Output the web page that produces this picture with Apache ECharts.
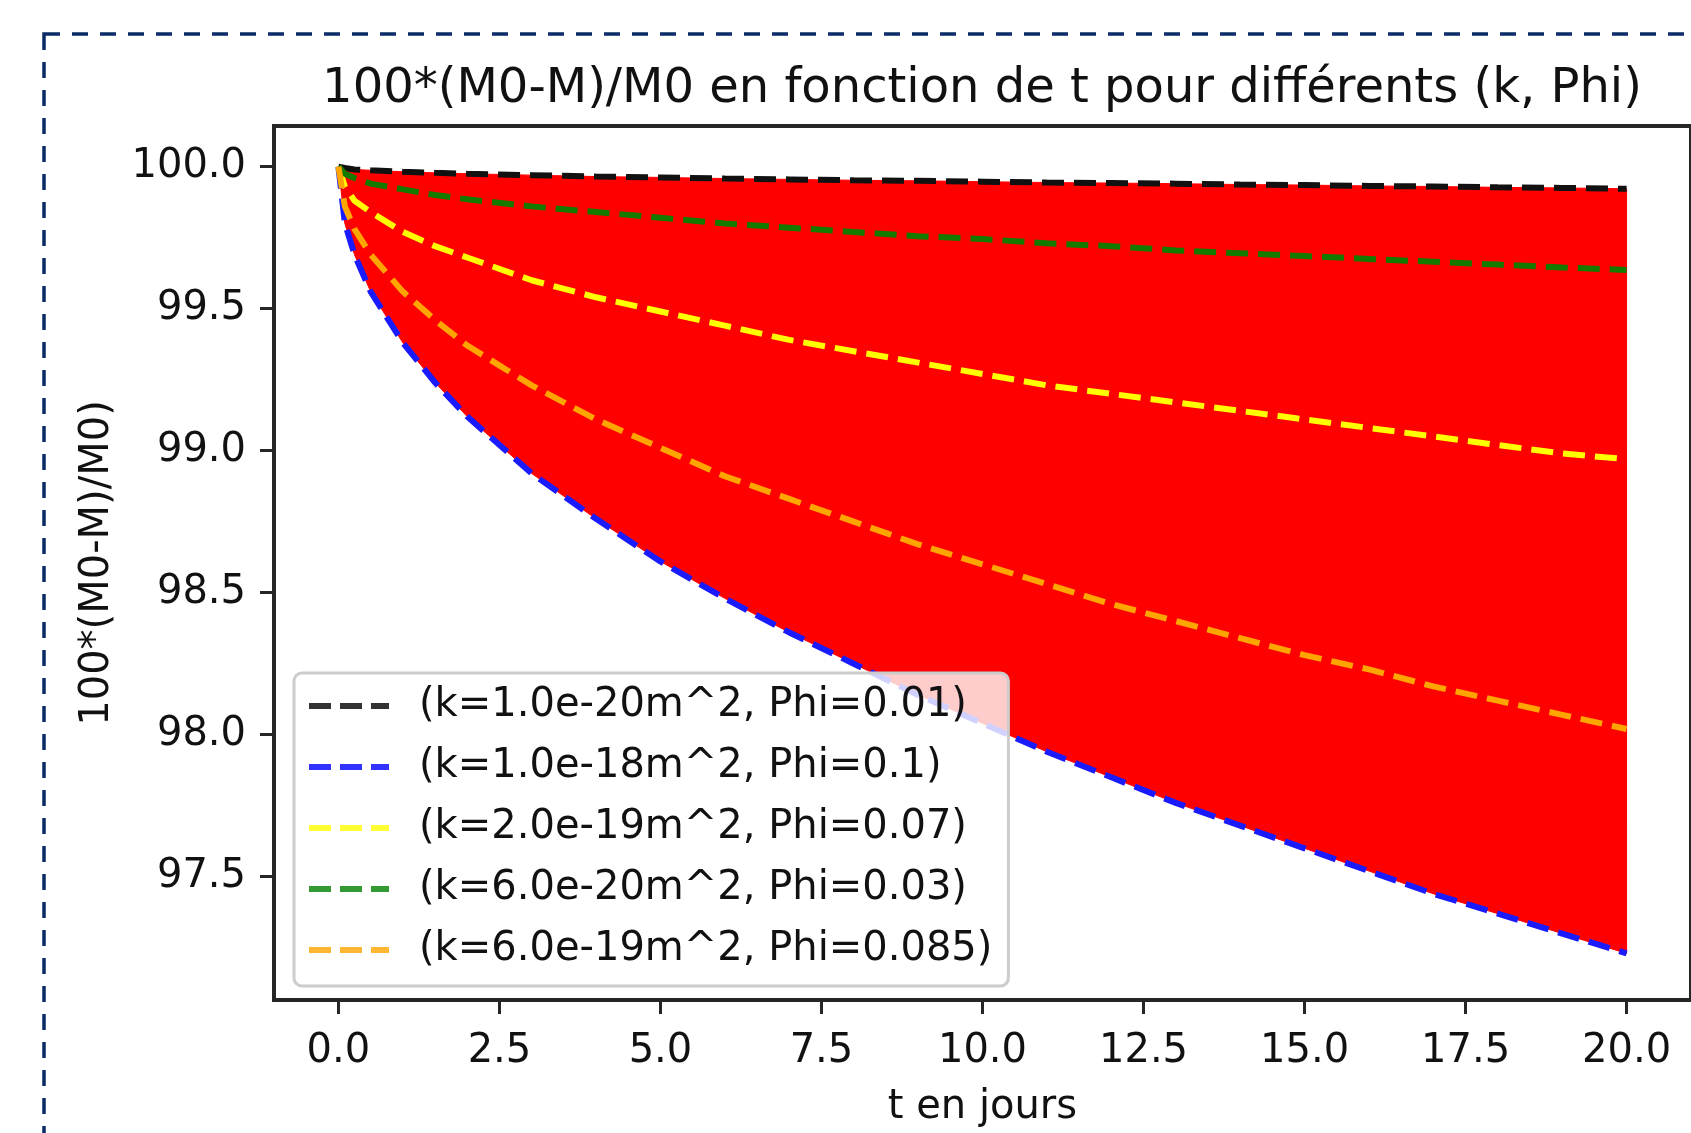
<!DOCTYPE html>
<html>
<head>
<meta charset="utf-8">
<script src="https://cdn.jsdelivr.net/npm/echarts@6/dist/echarts.min.js"></script>
<style>
html,body{margin:0;padding:0;background:#fff;}
#chart{width:1691px;height:1133px;}
</style>
</head>
<body>
<div id="chart"></div>
<script>
// ---- data ----
const tDays = [0, 0.1, 0.25, 0.5, 1, 1.5, 2, 3, 4, 5, 6, 7, 8, 9, 10, 11, 12, 13, 14, 15, 16, 17, 18, 19, 20];
const xTicks = [0, 2.5, 5, 7.5, 10, 12.5, 15, 17.5, 20];
const yTicks = [97.5, 98.0, 98.5, 99.0, 99.5, 100.0];

const seriesNames = [
  "(k=1.0e-20m^2, Phi=0.01)",
  "(k=1.0e-18m^2, Phi=0.1)",
  "(k=2.0e-19m^2, Phi=0.07)",
  "(k=6.0e-20m^2, Phi=0.03)",
  "(k=6.0e-19m^2, Phi=0.085)"
];
const valsBlack  = [100, 99.995, 99.99, 99.987, 99.982, 99.978, 99.975, 99.97, 99.965, 99.962, 99.958, 99.955, 99.952, 99.95, 99.947, 99.944, 99.942, 99.94, 99.937, 99.935, 99.932, 99.93, 99.927, 99.925, 99.922];
const valsBlue   = [100, 99.80, 99.69, 99.56, 99.38, 99.24, 99.12, 98.92, 98.76, 98.61, 98.48, 98.36, 98.25, 98.14, 98.04, 97.94, 97.85, 97.76, 97.68, 97.60, 97.52, 97.44, 97.37, 97.30, 97.23];
const valsYellow = [100, 99.93, 99.88, 99.84, 99.77, 99.72, 99.68, 99.60, 99.54, 99.49, 99.44, 99.39, 99.35, 99.31, 99.27, 99.23, 99.20, 99.17, 99.14, 99.11, 99.08, 99.05, 99.02, 98.99, 98.97];
const valsGreen  = [100, 99.975, 99.96, 99.94, 99.92, 99.90, 99.885, 99.86, 99.84, 99.82, 99.80, 99.785, 99.77, 99.755, 99.745, 99.73, 99.72, 99.705, 99.695, 99.685, 99.675, 99.665, 99.655, 99.645, 99.636];
const valsOrange = [100, 99.86, 99.78, 99.69, 99.56, 99.46, 99.37, 99.23, 99.11, 99.01, 98.91, 98.83, 98.75, 98.67, 98.60, 98.53, 98.46, 98.40, 98.34, 98.28, 98.23, 98.17, 98.12, 98.07, 98.02];

const titleText = "100*(M0-M)/M0 en fonction de t pour différents (k, Phi)";
const xName = "t en jours";
const yName = "100*(M0-M)/M0)";

// ---- build ----
const FONT = "DejaVu Sans";
const allVals = [valsBlack, valsBlue, valsYellow, valsGreen, valsOrange];
const legendColors = ["rgba(0,0,0,0.8)", "rgba(0,0,255,0.8)", "rgba(255,255,0,0.8)", "rgba(0,128,0,0.8)", "rgba(255,165,0,0.8)"];
const lineColors = ["#111111", "#1a1aff", "#ffff00", "#147a00", "#ffa500"];
const pairs = v => tDays.map((t, i) => [t, v[i]]);
const lowerBand = tDays.map((t, i) => Math.min(...allVals.map(a => a[i])));
const upperBand = tDays.map((t, i) => Math.max(...allVals.map(a => a[i])));

const series = [{
  name: "band", type: "custom", silent: true, z: 1, clip: true,
  data: tDays.map((t, i) => [t, lowerBand[i], upperBand[i]]),
  encode: { x: 0, y: [1, 2] },
  renderItem: function (params, api) {
    if (params.dataIndex !== 0) return null;
    const pts = [];
    for (let i = 0; i < tDays.length; i++) pts.push(api.coord([tDays[i], upperBand[i]]));
    for (let i = tDays.length - 1; i >= 0; i--) pts.push(api.coord([tDays[i], lowerBand[i]]));
    return { type: "polygon", shape: { points: pts }, style: { fill: "#ff0000", stroke: "#ff0000", lineWidth: 1 } };
  }
}];
seriesNames.forEach((n, k) => {
  series.push({
    name: n, type: "line", data: pairs(allVals[k]), symbol: "none", z: 3,
    color: legendColors[k], itemStyle: { color: legendColors[k] },
    lineStyle: { color: lineColors[k], width: 6, type: [22, 10] }
  });
});

const chart = echarts.init(document.getElementById("chart"), null, { renderer: "canvas" });
chart.setOption({
  animation: false,
  backgroundColor: "#ffffff",
  textStyle: { fontFamily: FONT },
  title: {
    text: titleText, left: 982, top: 66, padding: 0, textAlign: "center",
    textStyle: { fontFamily: FONT, fontSize: 48, fontWeight: "normal", color: "#111" }
  },
  grid: {
    left: 274, top: 126, width: 1425, height: 880,
    show: true, borderColor: "#262626", borderWidth: 4, backgroundColor: "transparent"
  },
  xAxis: {
    type: "value", min: -1, max: 21,
    name: xName, nameLocation: "middle", nameGap: 88,
    nameTextStyle: { fontFamily: FONT, fontSize: 40, color: "#111" },
    axisLine: { show: true, onZero: false, lineStyle: { color: "#262626", width: 4 } },
    axisTick: { show: true, customValues: xTicks, length: 14, lineStyle: { color: "#262626", width: 3 } },
    axisLabel: { customValues: xTicks, formatter: v => Number(v).toFixed(1), fontFamily: FONT, fontSize: 40, color: "#111", margin: 32 },
    splitLine: { show: false }
  },
  yAxis: {
    type: "value", min: 97.066, max: 100.143,
    name: yName, nameLocation: "middle", nameGap: 156, nameRotate: 90,
    nameTextStyle: { fontFamily: FONT, fontSize: 40, color: "#111" },
    axisLine: { show: true, onZero: false, lineStyle: { color: "#262626", width: 4 } },
    axisTick: { show: true, customValues: yTicks, length: 14, lineStyle: { color: "#262626", width: 3 } },
    axisLabel: { customValues: yTicks, formatter: v => Number(v).toFixed(1), fontFamily: FONT, fontSize: 40, color: "#111", margin: 28 },
    splitLine: { show: false }
  },
  legend: {
    data: seriesNames, orient: "vertical", left: 294, top: 673, z: 10,
    icon: "path://M0,0 L22,0 L22,6 L0,6 Z M31,0 L53,0 L53,6 L31,6 Z M62,0 L80,0 L80,6 L62,6 Z",
    padding: [13, 16, 16, 15], itemWidth: 80, itemHeight: 6, itemGap: 21,
    backgroundColor: "rgba(255,255,255,0.8)", borderColor: "#cccccc", borderWidth: 3, borderRadius: 8,
    textStyle: { fontFamily: FONT, fontSize: 40, color: "#111", lineHeight: 40, padding: [0, 0, 0, 25] },
    selectedMode: false
  },
  graphic: [{
    type: "rect", silent: true, z: 100,
    shape: { x: 44, y: 34, width: 1720, height: 1200 },
    style: { fill: "none", stroke: "#0a2a66", lineWidth: 3.5, lineDash: [16, 12] }
  }],
  series: series
});
</script>
</body>
</html>
